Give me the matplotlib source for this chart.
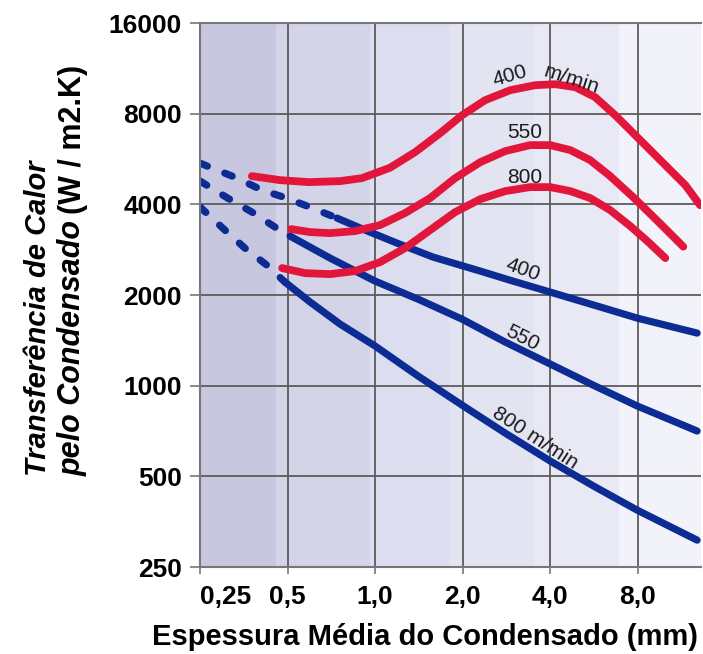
import matplotlib
matplotlib.use('Agg')
import matplotlib.pyplot as plt
from matplotlib.ticker import NullLocator, FixedLocator, FixedFormatter

plt.rcParams['font.family'] = ['Liberation Sans', 'DejaVu Sans']

# espessura (mm) x transferencia (W/m2.K)
red_400_x = [0.377, 0.471, 0.593, 0.758, 0.902, 1.126, 1.373, 1.674, 1.992, 2.39,
             2.915, 3.55, 4.16, 4.88, 5.71, 6.69, 8.16, 9.95, 11.66, 13.1]
red_400_y = [4963, 4813, 4740, 4777, 4887, 5293, 5963, 6893, 7908, 8868,
             9573, 9945, 10022, 9795, 9075, 7908, 6535, 5397, 4633, 3975]
red_550_x = [0.514, 0.598, 0.700, 0.853, 1.040, 1.268, 1.546, 1.884, 2.30, 2.80,
             3.41, 4.0, 4.69, 5.49, 6.43, 7.84, 9.56, 11.47]
red_550_y = [3310, 3235, 3210, 3260, 3413, 3743, 4197, 4887, 5522, 6008,
             6290, 6290, 6055, 5607, 4963, 4165, 3450, 2894]
red_800_x = [0.479, 0.574, 0.700, 0.853, 1.040, 1.268, 1.546, 1.884, 2.30, 2.80,
             3.41, 4.0, 4.69, 5.49, 6.43, 7.54, 8.70, 9.95]
red_800_y = [2457, 2364, 2346, 2401, 2572, 2862, 3285, 3768, 4162, 4425,
             4563, 4563, 4425, 4196, 3827, 3387, 2998, 2652]

blue_400_dash_x = [0.25, 0.335, 0.408, 0.498, 0.607, 0.74]
blue_400_dash_y = [5480, 4890, 4460, 4190, 3890, 3600]
blue_400_x = [0.740, 0.924, 1.19, 1.583, 2.30, 2.98, 4.0, 5.80, 7.97, 12.8]
blue_400_y = [3600, 3285, 2973, 2672, 2401, 2224, 2045, 1838, 1676, 1495]
blue_550_dash_x = [0.25, 0.312, 0.377, 0.453, 0.51]
blue_550_dash_y = [4780, 4190, 3770, 3360, 3137]
blue_550_x = [0.51, 0.70, 1.0, 1.428, 1.99, 2.80, 4.0, 5.71, 7.97, 12.8]
blue_550_y = [3137, 2652, 2224, 1924, 1663, 1396, 1180, 997, 856, 707]
blue_800_dash_x = [0.25, 0.305, 0.357, 0.425, 0.49]
blue_800_dash_y = [3920, 3280, 2860, 2510, 2207]
blue_800_x = [0.49, 0.598, 0.758, 1.0, 1.406, 1.99, 2.80, 4.0, 5.71, 7.97, 12.8]
blue_800_y = [2207, 1895, 1601, 1354, 1076, 862, 696, 562, 461, 386, 307]

x_ticks = [0.25, 0.5, 1, 2, 4, 8]
x_labels = ['0,25', '0,5', '1,0', '2,0', '4,0', '8,0']
y_ticks = [250, 500, 1000, 2000, 4000, 8000, 16000]
y_labels = ['250', '500', '1000', '2000', '4000', '8000', '16000']

# faixas do fundo
band_edges = [0.25, 0.457, 0.96, 1.79, 3.53, 6.9, 13.2]
band_colors = ['#c7c8e0', '#d3d4e8', '#dcddee', '#e3e4f2', '#e8e9f5', '#f1f2fa']

RED = '#e2163a'
BLUE = '#0c2c93'

fig = plt.figure(figsize=(7.03, 6.54), dpi=100)
ax = fig.add_axes([200/703, 1 - 567/654, 501/703, 544/654])
ax.set_xscale('log', base=2)
ax.set_yscale('log', base=2)

for i in range(len(band_colors)):
    ax.axvspan(band_edges[i], band_edges[i+1], color=band_colors[i], lw=0, zorder=0.1)

for xs, ys in [(red_400_x, red_400_y), (red_550_x, red_550_y), (red_800_x, red_800_y)]:
    ax.plot(xs, ys, color=RED, lw=5.6, solid_capstyle='round', solid_joinstyle='round', zorder=3)

for dx, dy, sx, sy in [(blue_400_dash_x, blue_400_dash_y, blue_400_x, blue_400_y),
                       (blue_550_dash_x, blue_550_dash_y, blue_550_x, blue_550_y),
                       (blue_800_dash_x, blue_800_dash_y, blue_800_x, blue_800_y)]:
    ax.plot(dx, dy, color=BLUE, lw=5.2, linestyle=(0, (1.1, 2.6)),
            dash_capstyle='round', dash_joinstyle='round', zorder=2)
    ax.plot(sx, sy, color=BLUE, lw=5.2, solid_capstyle='round', solid_joinstyle='round', zorder=2)

lbl = dict(fontsize=15, color='#1a1a1a', ha='center', va='center', zorder=4)
ax.text(2.91, 10650, '400', rotation=16, **lbl)
ax.text(4.72, 10400, 'm/min', rotation=-18, **lbl)
ax.text(3.28, 6950, '550', **lbl)
ax.text(3.28, 4925, '800', **lbl)
ax.text(3.23, 2420, '400', rotation=-20, **lbl)
ax.text(3.2, 1440, '550', rotation=-27, **lbl)
ax.text(3.55, 670, '800 m/min', rotation=-33, **lbl)

ax.set_xlim(0.25, 13.2)
ax.set_ylim(250, 16000)
ax.xaxis.set_major_locator(FixedLocator(x_ticks))
ax.xaxis.set_major_formatter(FixedFormatter(x_labels))
ax.yaxis.set_major_locator(FixedLocator(y_ticks))
ax.yaxis.set_major_formatter(FixedFormatter(y_labels))
ax.xaxis.set_minor_locator(NullLocator())
ax.yaxis.set_minor_locator(NullLocator())

ax.set_axisbelow(True)
ax.grid(True, color='#5c5c5c', lw=1.3)
for side in ['top', 'left', 'bottom']:
    ax.spines[side].set_color('#777777')
    ax.spines[side].set_linewidth(1.5)
ax.spines['right'].set_visible(False)
ax.tick_params(axis='both', direction='out', width=1.2, color='#777777', labelsize=19)
ax.tick_params(axis='x', length=5, pad=8)
ax.tick_params(axis='y', length=7, pad=6)
for t in ax.get_xticklabels() + ax.get_yticklabels():
    t.set_fontweight('bold')
ax.get_xticklabels()[0].set_horizontalalignment('left')

fig.text(425/703, 1 - 637/654, 'Espessura Média do Condensado (mm)', fontsize=21,
         fontweight='bold', ha='center', va='center')

y0 = 1 - 476/654
fig.text(38/703, y0, 'Transferência de Calor', fontsize=21, fontweight='bold',
         fontstyle='italic', rotation=90, ha='center', va='bottom')
t2 = fig.text(73/703, y0, 'pelo Condensado', fontsize=22, fontweight='bold',
              fontstyle='italic', rotation=90, ha='center', va='bottom')
fig.canvas.draw()
bb = t2.get_window_extent(fig.canvas.get_renderer())
fig.text(73/703, bb.y1 / fig.bbox.height + 6/654, '(W / m2.K)', fontsize=22,
         fontweight='bold', rotation=90, ha='center', va='bottom')

fig.savefig('out.png', dpi=100)
